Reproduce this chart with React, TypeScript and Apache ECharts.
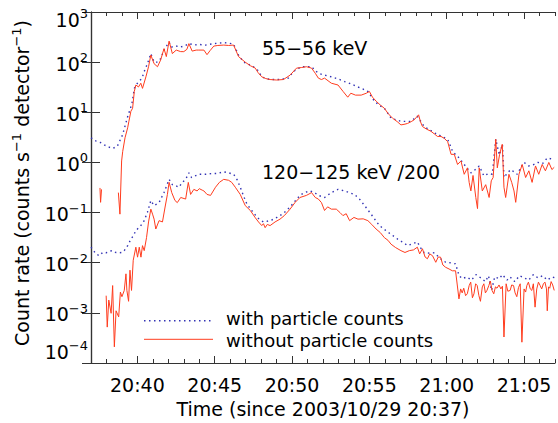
import React, { useEffect, useRef } from 'react';
import * as echarts from 'echarts';

// time: minutes since 2003/10/29 20:37, value: counts s^-1 detector^-1
const upperWith: [number, number][] = [
  [0, 3.1], [0.3, 2.7], [0.6, 2.5], [0.9, 2.2], [1.2, 2.0], [1.4, 1.9], [1.7, 2.1], [2.05, 3.6], [2.35, 7.8],
  [2.65, 15], [2.8, 30], [3.0, 38], [3.3, 48], [3.44, 65], [3.65, 93], [3.87, 148], [4.08, 100], [4.3, 100],
  [4.5, 117], [4.72, 174], [5.05, 250], [5.2, 200], [5.5, 210], [5.8, 200], [6.1, 215], [6.33, 234], [6.7, 220],
  [7.0, 225], [7.4, 219], [7.94, 234], [8.3, 240], [8.58, 245], [8.9, 240], [9.22, 229], [9.54, 138], [9.87, 100],
  [10.2, 90], [10.5, 81], [10.8, 68], [11.04, 51], [11.3, 47], [11.6, 45], [12.2, 45], [12.76, 48], [13.08, 65],
  [13.4, 75], [13.72, 81], [14.26, 81], [14.5, 68], [14.7, 60], [15.1, 55], [15.54, 51], [16.0, 46], [16.4, 41],
  [16.8, 37], [17.26, 32], [17.6, 29], [17.9, 26], [18.33, 16.6], [18.6, 14], [18.97, 12], [19.2, 9.5], [19.4, 7.6],
  [20.04, 6.6], [20.68, 6.6], [21.1, 8.3], [21.54, 5.2], [22.2, 3.9], [22.42, 3.6], [23.06, 2.9], [23.38, 1.66],
  [23.6, 1.4], [23.8, 1.23], [24.13, 0.91], [24.35, 0.75], [24.56, 0.62], [24.8, 0.7], [25.1, 0.85], [25.4, 0.54],
  [25.7, 0.6], [25.95, 0.58], [26.17, 2.9], [26.4, 1.4], [26.6, 2.3], [26.7, 0.5], [26.9, 0.6], [27.13, 0.72],
  [27.35, 0.65], [27.56, 0.58], [27.8, 0.8], [28.0, 1.0], [28.3, 0.85], [28.63, 0.91], [28.9, 1.0], [29.2, 0.95],
  [29.5, 1.23], [29.9, 1.15],
];

const upperWithout: [number, number | string][] = [
  [0.58, 0.31], [0.62, 0.16], [0.68, 0.29], [0.7, '-'],
  [1.77, 0.25], [1.87, 0.093], [1.98, 1.07], [2.05, 1.66], [2.2, 3.1], [2.37, 4.9], [2.45, 6.6], [2.58, 10.5],
  [2.69, 12], [2.8, 26], [2.9, 35], [3.07, 32], [3.22, 38], [3.33, 30], [3.55, 51], [3.72, 81], [3.87, 138],
  [4.08, 93], [4.3, 81], [4.5, 110], [4.72, 186], [4.87, 129], [5.05, 263], [5.26, 148], [5.51, 174], [5.8, 162],
  [6.0, 162], [6.2, 180], [6.33, 234], [6.54, 166], [6.8, 174], [6.97, 174], [7.3, 174], [7.5, 141], [7.7, 170],
  [7.94, 209], [8.2, 215], [8.58, 219], [8.9, 215], [9.22, 219], [9.54, 129], [9.97, 100], [10.3, 85], [10.62, 76],
  [10.8, 62], [11.04, 51], [11.3, 47], [11.58, 45], [12.0, 44], [12.44, 45], [12.87, 55], [13.29, 76], [13.6, 78],
  [13.93, 81], [14.26, 76], [14.5, 60], [14.7, 48], [14.9, 45], [15.1, 48], [15.54, 38], [15.97, 35], [16.3, 26],
  [16.6, 20], [16.8, 24], [17.1, 22], [17.47, 22], [17.8, 24], [18.0, 26], [18.2, 20], [18.44, 16.6], [18.7, 14],
  [18.97, 12], [19.2, 9.5], [19.5, 7.6], [19.8, 6.5], [20.04, 5.6], [20.3, 5.8], [20.47, 6.0], [20.7, 6.5],
  [20.9, 7.1], [21.18, 8.9], [21.3, 6.5], [21.43, 5.2], [21.7, 4.6], [21.97, 4.2], [22.2, 3.7], [22.4, 3.3],
  [22.63, 3.3], [22.85, 3.0], [23.06, 2.6], [23.28, 1.45], [23.49, 1.45], [23.7, 0.91], [23.92, 1.07], [24.13, 0.58],
  [24.34, 0.78], [24.45, 0.4], [24.56, 0.27], [24.7, 0.55], [24.88, 0.2], [24.99, 0.12], [25.1, 0.78], [25.3, 0.27],
  [25.52, 0.36], [25.74, 0.2], [25.88, 0.43], [26.0, 0.5], [26.17, 2.9], [26.27, 0.78], [26.42, 1.45], [26.59, 2.3],
  [26.7, 0.32], [26.81, 0.2], [27.02, 0.58], [27.2, 0.4], [27.35, 0.27], [27.46, 0.16], [27.67, 0.58], [27.88, 0.91],
  [28.1, 0.5], [28.31, 0.68], [28.52, 0.4], [28.74, 0.85], [28.95, 0.58], [29.17, 0.91], [29.38, 0.68], [29.6, 1.0],
  [29.8, 0.72], [29.95, 0.8],
];

const lowerWith: [number, number][] = [
  [0, 0.0204], [0.33, 0.0148], [0.55, 0.0138], [0.75, 0.016], [0.98, 0.0158], [1.2, 0.017], [1.4, 0.0174],
  [1.6, 0.016], [1.83, 0.0158], [2.0, 0.016], [2.15, 0.0174], [2.37, 0.0219], [2.58, 0.0295], [2.75, 0.035],
  [2.9, 0.0437], [3.22, 0.055], [3.44, 0.069], [3.65, 0.102], [3.87, 0.174], [4.08, 0.138], [4.4, 0.158],
  [4.72, 0.25], [5.05, 0.46], [5.26, 0.36], [5.5, 0.34], [5.69, 0.32], [5.9, 0.4], [6.12, 0.46], [6.33, 0.62],
  [6.5, 0.5], [6.97, 0.58], [7.4, 0.58], [7.8, 0.6], [8.15, 0.6], [8.58, 0.65], [8.9, 0.62], [9.22, 0.58],
  [9.45, 0.45], [9.65, 0.32], [9.85, 0.22], [10.08, 0.148], [10.3, 0.12], [10.55, 0.095], [10.83, 0.076],
  [11.15, 0.065], [11.58, 0.069], [11.9, 0.076], [12.22, 0.087], [12.5, 0.1], [12.87, 0.129], [13.2, 0.17],
  [13.51, 0.22], [13.8, 0.25], [14.15, 0.27], [14.45, 0.25], [14.7, 0.22], [15.1, 0.2], [15.54, 0.25], [15.97, 0.29],
  [16.4, 0.27], [16.7, 0.25], [17.04, 0.23], [17.4, 0.18], [17.69, 0.138], [18.11, 0.093], [18.4, 0.07],
  [18.65, 0.055], [19.18, 0.041], [19.5, 0.035], [19.83, 0.0295], [20.2, 0.025], [20.47, 0.0219], [20.8, 0.024],
  [21.1, 0.026], [21.3, 0.02], [21.54, 0.0158], [21.9, 0.0155], [22.2, 0.0158], [22.6, 0.012], [22.93, 0.0102],
  [23.2, 0.01], [23.57, 0.0095], [23.8, 0.0055], [24.0, 0.0048], [24.3, 0.0052], [24.6, 0.0045], [24.9, 0.0058],
  [25.2, 0.005], [25.5, 0.0042], [25.7, 0.0055], [25.9, 0.0028], [26.1, 0.0052], [26.4, 0.0048], [26.6, 0.0058],
  [26.9, 0.0045], [27.1, 0.0052], [27.4, 0.0042], [27.7, 0.0055], [28.0, 0.005], [28.3, 0.0045], [28.6, 0.0058],
  [28.9, 0.005], [29.2, 0.0055], [29.5, 0.0045], [29.8, 0.0052], [30, 0.005],
];

const lowerWithout: [number, number][] = [
  [0.98, 0.0022], [1.05, 0.00052], [1.15, 0.0018], [1.3, 0.00098], [1.4, 0.0035], [1.51, 0.00021], [1.62, 0.0011],
  [1.79, 0.00083], [1.9, 0.0026], [2.0, 0.0021], [2.15, 0.0028], [2.26, 0.006], [2.32, 0.0028], [2.43, 0.0017],
  [2.52, 0.0071], [2.62, 0.0028], [2.73, 0.0112], [2.9, 0.0204], [3.01, 0.0129], [3.12, 0.0204], [3.23, 0.0129],
  [3.33, 0.0219], [3.44, 0.0174], [3.59, 0.0316], [3.72, 0.065], [3.87, 0.117], [3.98, 0.093], [4.08, 0.074],
  [4.19, 0.047], [4.4, 0.069], [4.62, 0.065], [4.79, 0.129], [4.94, 0.23], [5.05, 0.4], [5.22, 0.25], [5.43, 0.174],
  [5.58, 0.158], [5.8, 0.2], [6.12, 0.186], [6.29, 0.4], [6.44, 0.23], [6.65, 0.29], [6.86, 0.27], [7.0, 0.3],
  [7.19, 0.28], [7.3, 0.27], [7.5, 0.23], [7.73, 0.22], [8.05, 0.32], [8.3, 0.4], [8.58, 0.46], [8.9, 0.44],
  [9.1, 0.4], [9.33, 0.32], [9.65, 0.23], [9.97, 0.138], [10.3, 0.11], [10.62, 0.079], [10.83, 0.065], [11.04, 0.055],
  [11.15, 0.06], [11.26, 0.05], [11.4, 0.058], [11.58, 0.055], [11.9, 0.065], [12.22, 0.074], [12.5, 0.087],
  [12.87, 0.117], [13.2, 0.16], [13.51, 0.2], [13.93, 0.22], [14.26, 0.25], [14.5, 0.2], [14.7, 0.186], [14.9, 0.158],
  [15.1, 0.11], [15.3, 0.13], [15.54, 0.117], [15.86, 0.117], [16.1, 0.1], [16.29, 0.087], [16.5, 0.095],
  [16.72, 0.069], [17.0, 0.08], [17.26, 0.074], [17.6, 0.075], [17.9, 0.069], [18.15, 0.058], [18.43, 0.047],
  [18.7, 0.04], [18.97, 0.0316], [19.2, 0.028], [19.4, 0.0234], [19.7, 0.02], [20.04, 0.0174], [20.3, 0.016],
  [20.58, 0.0174], [20.85, 0.018], [21.1, 0.0204], [21.25, 0.015], [21.43, 0.019], [21.6, 0.013], [21.75, 0.012],
  [21.9, 0.015], [22.08, 0.0138], [22.29, 0.0102], [22.45, 0.013], [22.6, 0.0129], [22.75, 0.009], [22.93, 0.0081],
  [23.15, 0.0075], [23.36, 0.0069], [23.57, 0.0069], [23.79, 0.0019], [23.9, 0.003], [24.0, 0.0025], [24.1, 0.0031],
  [24.22, 0.0022], [24.33, 0.0024], [24.45, 0.0035], [24.55, 0.0041], [24.66, 0.002], [24.76, 0.0024],
  [24.87, 0.0038], [24.97, 0.0035], [25.08, 0.0022], [25.18, 0.0017], [25.3, 0.0033], [25.4, 0.0038], [25.5, 0.0025],
  [25.6, 0.0028], [25.72, 0.0035], [25.82, 0.0043], [25.93, 0.0028], [26.04, 0.0024], [26.15, 0.0033],
  [26.25, 0.0031], [26.38, 0.0036], [26.5, 0.003], [26.6, 0.0034], [26.7, 0.00033], [26.84, 0.0038], [26.95, 0.0027],
  [27.1, 0.0028], [27.2, 0.0036], [27.32, 0.0035], [27.42, 0.0025], [27.53, 0.0021], [27.64, 0.0032], [27.75, 0.0038],
  [27.86, 0.00026], [28.0, 0.003], [28.1, 0.0026], [28.18, 0.0035], [28.28, 0.0041], [28.4, 0.003], [28.5, 0.0028],
  [28.6, 0.0038], [28.71, 0.0013], [28.82, 0.003], [28.93, 0.0041], [29.04, 0.0035], [29.14, 0.003], [29.25, 0.0038],
  [29.35, 0.0041], [29.45, 0.003], [29.5, 0.0011], [29.58, 0.0033], [29.66, 0.0031], [29.75, 0.0042],
  [29.85, 0.0036], [29.95, 0.0028],
];

const majorTicks = [3, 8, 13, 18, 23, 28];
const startMinute = 37; // 20:37
const seriesNames = ['with particle counts', 'without particle counts'];
const channelLabels = ['55\u221256 keV', '120\u2212125 keV /200'];
const xTitle = 'Time (since 2003/10/29 20:37)';

const FONT = 'DejaVu Sans';
const BLUE = '#3232b4';
const RED = '#ff3c1e';
const AXIS = '#333';
const DOT = [1.5, 3.5];

function timeLabel(v: number): string {
  const m = Math.round(v) + startMinute;
  if (m % 5 !== 0) return '';
  const h = 20 + Math.floor(m / 60);
  const mm = m % 60;
  return `${h}:${String(mm).padStart(2, '0')}`;
}

function powLabel(v: number): string {
  const e = Math.round(Math.log10(v));
  const exp = `${e < 0 ? '\u2212' : ''}${Math.abs(e)}`;
  const main = `{b|10}{s|${exp}}`;
  if (e === 3) return `{gt| }\n${main}`;
  if (e === -4) return `${main}\n{gb| }`;
  return main;
}

export default function App() {
  const ref = useRef<HTMLDivElement>(null);
  useEffect(() => {
    const chart = echarts.init(ref.current!, null, { renderer: 'svg' });
    const baseX = {
      type: 'value', min: 0, max: 30, gridIndex: 0,
      splitLine: { show: false },
    };
    const option: any = {
      animation: false,
      backgroundColor: '#fff',
      grid: { left: 91, right: 1.3, top: 10, bottom: 60 },
      xAxis: [
        {
          ...baseX, position: 'bottom', interval: 1,
          axisLine: { show: true, lineStyle: { color: AXIS, width: 1.2 } },
          axisTick: { show: true, inside: true, length: 4, lineStyle: { color: AXIS, width: 1 } },
          axisLabel: { show: true, formatter: timeLabel, margin: 12, fontFamily: FONT, fontSize: 19, color: '#000' },
        },
        {
          ...baseX, position: 'bottom',
          axisLine: { show: false },
          axisTick: { show: true, inside: true, length: 7, customValues: majorTicks, lineStyle: { color: AXIS, width: 1 } },
          axisLabel: { show: false },
        },
        {
          ...baseX, position: 'top', interval: 1,
          axisLine: { show: true, lineStyle: { color: AXIS, width: 1.2 } },
          axisTick: { show: true, inside: true, length: 4, lineStyle: { color: AXIS, width: 1 } },
          axisLabel: { show: false },
        },
        {
          ...baseX, position: 'top',
          axisLine: { show: false },
          axisTick: { show: true, inside: true, length: 7, customValues: majorTicks, lineStyle: { color: AXIS, width: 1 } },
          axisLabel: { show: false },
        },
      ],
      yAxis: [
        {
          type: 'log', logBase: 10, min: 1e-4, max: 1e3, position: 'left', splitNumber: 7,
          splitLine: { show: false },
          axisLine: { show: true, lineStyle: { color: AXIS, width: 1.2 } },
          axisTick: { show: true, inside: true, length: 9, lineStyle: { color: AXIS, width: 1 } },
          axisLabel: {
            margin: 3,
            formatter: powLabel,
            rich: {
              b: { fontFamily: FONT, fontSize: 19, lineHeight: 22, verticalAlign: 'bottom', color: '#000' },
              s: { fontFamily: FONT, fontSize: 13, lineHeight: 14, verticalAlign: 'top', color: '#000' },
              gt: { fontSize: 2, lineHeight: 12 },
              gb: { fontSize: 2, lineHeight: 26 },
            },
          },
        },
        {
          type: 'log', logBase: 10, min: 1e-4, max: 1e3, position: 'right', splitNumber: 7,
          splitLine: { show: false },
          axisLine: { show: true, lineStyle: { color: AXIS, width: 1.2 } },
          axisTick: { show: true, inside: true, length: 9, lineStyle: { color: AXIS, width: 1 } },
          axisLabel: { show: false },
        },
      ],
      series: [
        {
          name: seriesNames[0], type: 'line', data: upperWith, showSymbol: false, symbol: 'none',
          lineStyle: { color: BLUE, width: 1.4, type: DOT }, silent: true,
        },
        {
          name: seriesNames[0], type: 'line', data: lowerWith, showSymbol: false, symbol: 'none',
          lineStyle: { color: BLUE, width: 1.4, type: DOT }, silent: true,
        },
        {
          name: seriesNames[1], type: 'line', data: upperWithout, showSymbol: false, symbol: 'none',
          connectNulls: false, lineStyle: { color: RED, width: 1 }, silent: true,
        },
        {
          name: seriesNames[1], type: 'line', data: lowerWithout, showSymbol: false, symbol: 'none',
          lineStyle: { color: RED, width: 1 }, silent: true,
        },
      ],
      graphic: [
        { type: 'text', left: 262, top: 38, style: { text: channelLabels[0], fontFamily: FONT, fontSize: 19, fill: '#000' } },
        { type: 'text', left: 262, top: 162, style: { text: channelLabels[1], fontFamily: FONT, fontSize: 19, fill: '#000' } },
        {
          type: 'line', shape: { x1: 144, y1: 320.7, x2: 213, y2: 320.7 },
          style: { stroke: BLUE, lineWidth: 1.4, lineDash: DOT },
        },
        {
          type: 'line', shape: { x1: 144, y1: 339.3, x2: 213, y2: 339.3 },
          style: { stroke: RED, lineWidth: 1 },
        },
        {
          type: 'text', x: 226, y: 318.8,
          style: { text: seriesNames[0], fontFamily: FONT, fontSize: 18, fill: '#000', verticalAlign: 'middle' },
        },
        {
          type: 'text', x: 226, y: 340.4,
          style: { text: seriesNames[1], fontFamily: FONT, fontSize: 18, fill: '#000', verticalAlign: 'middle' },
        },
        {
          type: 'text', x: 323, y: 409, style: { text: xTitle, fontFamily: FONT, fontSize: 19, fill: '#000', align: 'center', verticalAlign: 'middle' },
        },
        {
          type: 'text', x: 20.5, y: 183, rotation: Math.PI / 2,
          style: {
            text: '{n|Count rate (counts s}{s|\u22121}{n| detector}{s|\u22121}{n|)}',
            align: 'center', verticalAlign: 'middle', fill: '#000',
            rich: {
              n: { fontFamily: FONT, fontSize: 19, lineHeight: 22, verticalAlign: 'bottom', fill: '#000' },
              s: { fontFamily: FONT, fontSize: 13, lineHeight: 14, verticalAlign: 'top', fill: '#000' },
            },
          },
        },
      ],
    };
    chart.setOption(option);
    return () => chart.dispose();
  }, []);
  return (
    <div
      ref={ref}
      style={{ position: 'absolute', left: 0, top: 0, width: 558, height: 423, background: '#fff' }}
    />
  );
}
